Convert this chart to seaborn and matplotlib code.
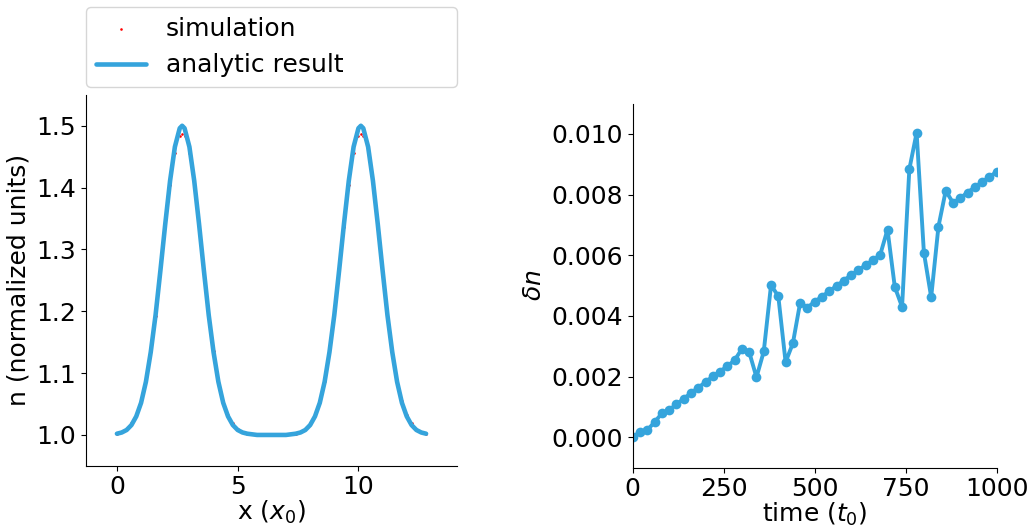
import numpy as np
import pandas as pd
import matplotlib
matplotlib.use('Agg')
import matplotlib.pyplot as plt
import seaborn as sns

# Left panel: density profile
x_pos = [0.0, 0.2, 0.4, 0.6, 0.8, 1.0, 1.2, 1.4, 1.6, 1.8, 2.0, 2.2, 2.4, 2.6, 2.7,
         2.8, 3.0, 3.2, 3.4, 3.6, 3.8, 4.0, 4.2, 4.4, 4.6, 4.8, 5.0, 5.2, 5.4,
         5.6, 5.8, 6.0, 6.2, 6.4, 6.6, 6.8, 7.0, 7.2, 7.4, 7.6, 7.8, 8.0, 8.2,
         8.4, 8.6, 8.8, 9.0, 9.2, 9.4, 9.6, 9.8, 10.0, 10.1, 10.2, 10.4, 10.6,
         10.8, 11.0, 11.2, 11.4, 11.6, 11.8, 12.0, 12.2, 12.4, 12.6, 12.8]
n_analytic = [1.002, 1.004, 1.008, 1.016, 1.030, 1.052, 1.086, 1.134, 1.194, 1.266,
              1.341, 1.411, 1.466, 1.496, 1.500, 1.496, 1.466, 1.411, 1.341, 1.266,
              1.194, 1.134, 1.086, 1.052, 1.030, 1.016, 1.008, 1.004, 1.002, 1.001,
              1.000, 1.000, 1.000, 1.000, 1.000, 1.000, 1.000, 1.001, 1.002, 1.004,
              1.008, 1.016, 1.030, 1.052, 1.086, 1.134, 1.194, 1.266, 1.341, 1.411,
              1.466, 1.496, 1.500, 1.496, 1.466, 1.411, 1.341, 1.266, 1.194, 1.134,
              1.086, 1.052, 1.030, 1.016, 1.008, 1.004, 1.002]
n_simulation = [1.002, 1.005, 1.010, 1.019, 1.033, 1.055, 1.088, 1.135, 1.193, 1.263,
                1.336, 1.404, 1.456, 1.484, 1.487, 1.484, 1.456, 1.404, 1.336, 1.263,
                1.193, 1.135, 1.088, 1.055, 1.033, 1.019, 1.010, 1.005, 1.002, 1.001,
                1.000, 1.000, 1.000, 1.000, 1.000, 1.000, 1.000, 1.001, 1.002, 1.005,
                1.010, 1.019, 1.033, 1.055, 1.088, 1.135, 1.193, 1.263, 1.336, 1.404,
                1.456, 1.484, 1.487, 1.484, 1.456, 1.404, 1.336, 1.263, 1.193, 1.135,
                1.088, 1.055, 1.033, 1.019, 1.010, 1.005, 1.002]

# Right panel: deviation over time
time = [0, 20, 40, 60, 80, 100, 120, 140, 160, 180, 200, 220, 240, 260, 280, 300,
        320, 340, 360, 380, 400, 420, 440, 460, 480, 500, 520, 540, 560, 580, 600,
        620, 640, 660, 680, 700, 720, 740, 760, 780, 800, 820, 840, 860, 880, 900,
        920, 940, 960, 980, 1000]
delta_n = [0.0000, 0.00019, 0.00024, 0.00050, 0.00079, 0.00090, 0.00109, 0.00127,
           0.00146, 0.00164, 0.00182, 0.00201, 0.00217, 0.00235, 0.00254, 0.00292,
           0.00281, 0.00198, 0.00283, 0.00502, 0.00465, 0.00248, 0.00310, 0.00444,
           0.00428, 0.00447, 0.00464, 0.00482, 0.00499, 0.00517, 0.00535, 0.00551,
           0.00568, 0.00584, 0.00602, 0.00685, 0.00496, 0.00430, 0.00884, 0.01004,
           0.00609, 0.00462, 0.00695, 0.00813, 0.00773, 0.00789, 0.00807, 0.00825,
           0.00842, 0.00859, 0.00875]

x_ticks = [0, 5, 10]
time_ticks = [0, 250, 500, 750, 1000]

blue = '#35a4dc'
fs = 18

sns.set_style('ticks')
plt.rcParams['font.family'] = ['DejaVu Sans']
plt.rcParams['font.size'] = fs
plt.rcParams['text.color'] = 'black'
plt.rcParams['axes.labelcolor'] = 'black'
plt.rcParams['axes.edgecolor'] = 'black'
plt.rcParams['xtick.color'] = 'black'
plt.rcParams['ytick.color'] = 'black'
plt.rcParams['xtick.major.size'] = 3.5
plt.rcParams['ytick.major.size'] = 3.5
plt.rcParams['xtick.major.pad'] = 3

profile = pd.DataFrame({'x': x_pos, 'analytic': n_analytic, 'simulation': n_simulation})
growth = pd.DataFrame({'time': time, 'delta_n': delta_n})

fig = plt.figure(figsize=(10.29, 5.27), dpi=100)
ax1 = fig.add_axes([0.0836, 0.116, 0.3605, 0.704])
ax2 = fig.add_axes([0.6149, 0.1126, 0.3537, 0.6907])

# left: simulation vs analytic profile
sns.scatterplot(data=profile, x='x', y='simulation', ax=ax1, color='red', marker='.',
                s=14, linewidth=0, label='simulation', zorder=2)
sns.lineplot(data=profile, x='x', y='analytic', ax=ax1, color=blue, linewidth=3.3,
             label='analytic result', zorder=3)
ax1.set_xlim(-1.28, 14.08)
ax1.set_ylim(0.95, 1.55)
ax1.set_xticks(x_ticks)
ax1.set_xlabel('x ($x_0$)', fontsize=fs, labelpad=0)
ax1.set_ylabel('n (normalized units)', fontsize=fs)
ax1.tick_params(labelsize=fs)
ax1.legend(bbox_to_anchor=(0, 1.02, 1, 0.2), loc='lower left', mode='expand',
           borderaxespad=0, fontsize=fs, frameon=True)

# right: deviation growth
sns.lineplot(data=growth, x='time', y='delta_n', ax=ax2, color=blue, linewidth=2.8,
             marker='o', markersize=7, markeredgewidth=0)
ax2.set_xlim(0, 1000)
ax2.set_ylim(-0.001, 0.011)
ax2.set_xticks(time_ticks)
ax2.set_xlabel('time ($t_0$)', fontsize=fs, labelpad=0)
ax2.set_ylabel(r'$\delta n$', fontsize=fs)
ax2.tick_params(labelsize=fs)

sns.despine(fig=fig)

fig.savefig('out.png', dpi=100)
